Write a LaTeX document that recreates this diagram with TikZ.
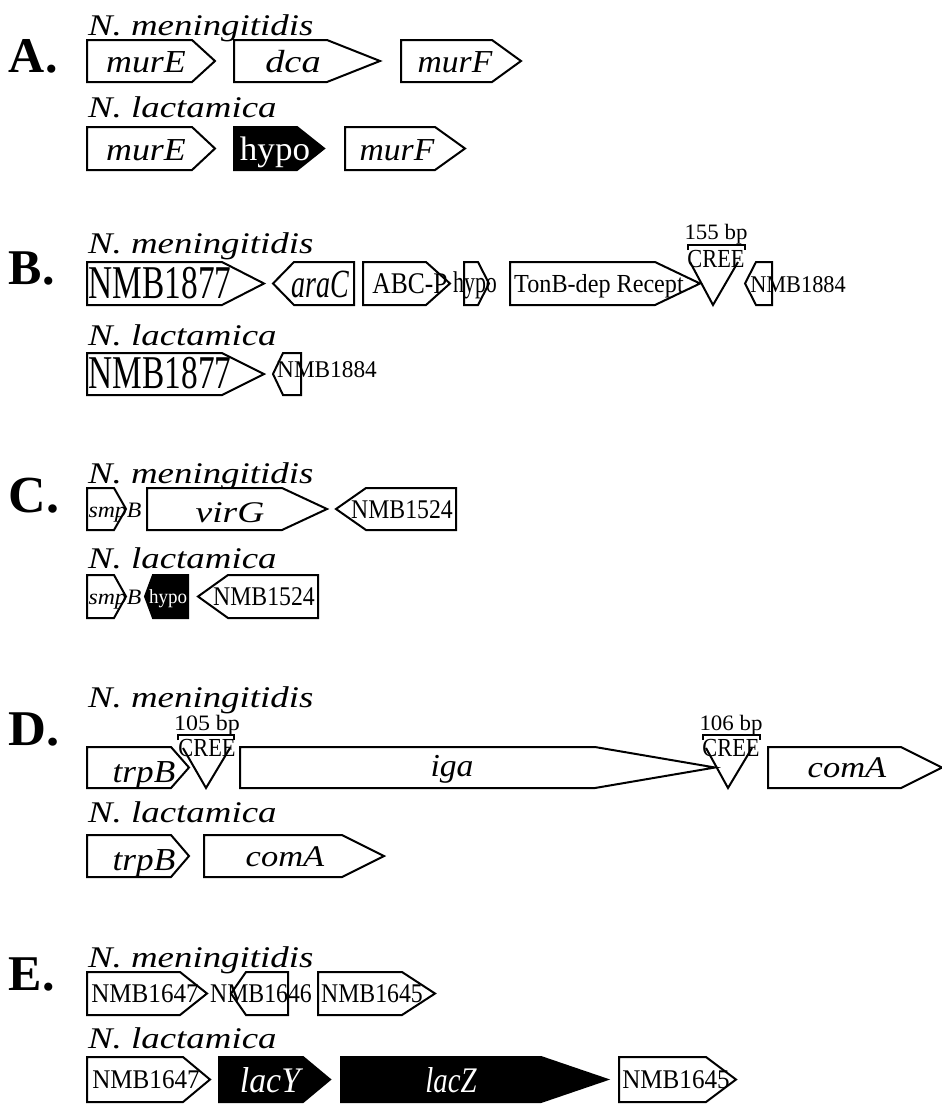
\documentclass[tikz,border=0pt]{standalone}
\usepackage{fontspec}
\setmainfont{Liberation Serif}
\usepackage{graphicx}
\tikzset{
  gene/.style={draw=black, line width=2pt, line join=miter, fill=white},
  blk/.style={fill=black},
  txt/.style={anchor=base, inner sep=0pt, outer sep=0pt},
  wtxt/.style={txt, text=white},
  lab/.style={anchor=base west, inner sep=0pt, outer sep=0pt},
  crmark/.style={draw=black, line width=2pt},
}
% forward gene: x1, xp, x2, ytop, ybot
\newcommand{\fgene}[6][]{\draw[gene,#1] (#2,#5) -- (#3,#5) -- (#4,{(#5+#6)/2}) -- (#3,#6) -- (#2,#6) -- cycle;}
% reverse gene: xtip, xp, x2, ytop, ybot
\newcommand{\rgene}[6][]{\draw[gene,#1] (#2,{(#5+#6)/2}) -- (#3,#5) -- (#4,#5) -- (#4,#6) -- (#3,#6) -- cycle;}
% text: name, x, baseline, size, xscale, text
\newcommand{\gtxt}[7][txt]{\node[#1] (#2) at (#3,#4) {\fontsize{#5}{#5}\selectfont\scalebox{#6}[1]{#7}};}
\newcommand{\spec}[3]{\node[lab] (#1) at (88,#2) {\fontsize{30}{30}\selectfont\scalebox{1.23}[1]{\itshape #3}};}
\begin{document}
\begin{tikzpicture}[x=1pt,y=-1pt]
\useasboundingbox[fill=white] (0,0) rectangle (942,1104);

% ---------------- A ----------------
\gtxt[lab]{LA}{9}{72}{50}{1.0}{\bfseries A.}
\spec{spA1}{35}{N. meningitidis}
\fgene{87}{192}{215}{40}{82}
\gtxt{tA1}{146}{72}{32}{1.12}{\itshape murE}
\fgene{234}{327}{380}{40}{82}
\gtxt{tA2}{293}{72}{32}{1.2}{\itshape dca}
\fgene{401}{492}{521}{40}{82}
\gtxt{tA3}{455}{72}{32}{1.05}{\itshape murF}
\spec{spA2}{117}{N. lactamica}
\fgene{87}{192}{215}{127}{170}
\gtxt{tA4}{146}{160}{32}{1.12}{\itshape murE}
\fgene[blk]{234}{297}{324}{127}{170}
\gtxt[wtxt]{tA5}{275}{160}{34}{1.03}{hypo}
\fgene{345}{435}{465}{127}{170}
\gtxt{tA6}{397}{160}{32}{1.05}{\itshape murF}

% ---------------- B ----------------
\gtxt[lab]{LB}{9}{284}{50}{1.0}{\bfseries B.}
\spec{spB1}{253}{N. meningitidis}
\fgene{87}{222}{264}{262}{305}
\gtxt{tB1}{160}{298}{47}{0.71}{NMB1877}
\rgene{273}{294}{354}{262}{305}
\gtxt{tB2}{320}{297}{40}{0.7}{\itshape araC}
\fgene{363}{426}{450}{262}{305}
\gtxt{tB3}{410}{293}{30}{0.85}{ABC-P}
\fgene{464}{478}{489}{262}{305}
\gtxt{tB4}{475}{292}{30}{0.73}{hypo}
\fgene{510}{655}{700}{262}{305}
\gtxt{tB5}{599}{292}{26}{0.93}{TonB-dep Recept}
% CREE 155 bp
\draw[crmark] (688,250) -- (688,245) -- (745,245) -- (745,250);
\draw[crmark] (690,262) -- (713,305) -- (738,262);
\gtxt{tB6}{716}{239}{22}{1.04}{155 bp}
\gtxt{tB7}{716}{267}{26}{0.86}{CREE}
\rgene{745}{756}{772}{262}{305}
\gtxt{tB8}{798}{292}{24}{0.93}{NMB1884}
\spec{spB2}{345}{N. lactamica}
\fgene{87}{222}{264}{353}{395}
\gtxt{tB9}{160}{388}{47}{0.71}{NMB1877}
\rgene{273}{283}{301}{353}{395}
\gtxt{tB10}{327}{377}{24}{0.97}{NMB1884}

% ---------------- C ----------------
\gtxt[lab]{LC}{9}{512}{52}{1.0}{\bfseries C.}
\spec{spC1}{483}{N. meningitidis}
\fgene{87}{114}{126}{488}{530}
\gtxt{tC1}{115}{517}{22}{1.08}{\itshape smpB}
\fgene{147}{282}{327}{488}{530}
\gtxt{tC2}{230}{522}{30}{1.25}{\itshape virG}
\rgene{336}{366}{456}{488}{530}
\gtxt{tC3}{402}{518}{27}{0.88}{NMB1524}
\spec{spC2}{568}{N. lactamica}
\fgene{87}{114}{126}{575}{618}
\gtxt{tC4}{115}{604}{22}{1.08}{\itshape smpB}
\rgene[blk]{145}{153}{188}{575}{618}
\gtxt[wtxt]{tC5}{168}{603}{20}{0.95}{hypo}
\rgene{198}{228}{318}{575}{618}
\gtxt{tC6}{264}{605}{27}{0.88}{NMB1524}

% ---------------- D ----------------
\gtxt[lab]{LD}{9}{745}{50}{1.05}{\bfseries D.}
\spec{spD1}{707}{N. meningitidis}
\fgene{87}{171}{189}{747}{788}
\gtxt{tD1}{144}{782}{32}{1.1}{\itshape trpB}
\draw[crmark] (178,740) -- (178,735) -- (234,735) -- (234,740);
\draw[crmark] (183,748) -- (206,788) -- (230,748);
\gtxt{tD2}{207}{730}{22}{1.09}{105 bp}
\gtxt{tD3}{207}{756}{26}{0.86}{CREE}
\fgene{240}{595}{715}{747}{788}
\gtxt{tD4}{452}{776}{32}{1.05}{\itshape iga}
\draw[crmark] (703,740) -- (703,735) -- (760,735) -- (760,740);
\draw[crmark] (706,748) -- (728,788) -- (752,748);
\gtxt{tD5}{731}{730}{22}{1.04}{106 bp}
\gtxt{tD6}{731}{756}{26}{0.86}{CREE}
\fgene{768}{901}{942}{747}{788}
\gtxt{tD7}{847}{777}{30}{1.15}{\itshape comA}
\spec{spD2}{822}{N. lactamica}
\fgene{87}{171}{189}{835}{877}
\gtxt{tD8}{144}{870}{32}{1.1}{\itshape trpB}
\fgene{204}{342}{384}{835}{877}
\gtxt{tD9}{285}{866}{30}{1.15}{\itshape comA}

% ---------------- E ----------------
\gtxt[lab]{LE}{9}{990}{50}{1.0}{\bfseries E.}
\spec{spE1}{967}{N. meningitidis}
\fgene{87}{180}{207}{972}{1015}
\gtxt{tE1}{145}{1002}{27}{0.93}{NMB1647}
\rgene{231}{246}{288}{972}{1015}
\gtxt{tE2}{261}{1002}{27}{0.88}{NMB1646}
\fgene{318}{402}{435}{972}{1015}
\gtxt{tE3}{372}{1002}{27}{0.88}{NMB1645}
\spec{spE2}{1048}{N. lactamica}
\fgene{87}{183}{210}{1057}{1102}
\gtxt{tE4}{146}{1088}{27}{0.93}{NMB1647}
\fgene[blk]{219}{303}{330}{1057}{1102}
\gtxt[wtxt]{tE5}{270}{1092}{36}{0.94}{\itshape lacY}
\fgene[blk]{341}{541}{607}{1057}{1102}
\gtxt[wtxt]{tE6}{451}{1092}{36}{0.8}{\itshape lacZ}
\fgene{619}{706}{736}{1057}{1102}
\gtxt{tE7}{676}{1088}{27}{0.93}{NMB1645}
\end{tikzpicture}
\end{document}
